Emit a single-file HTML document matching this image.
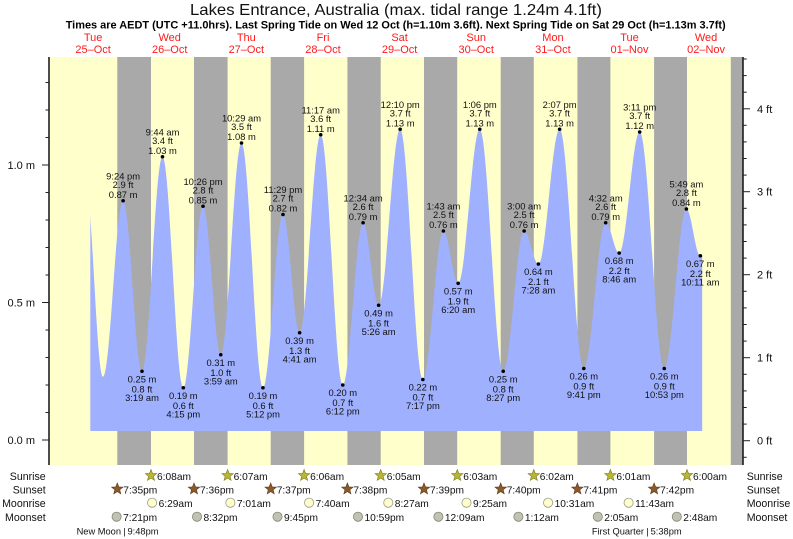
<!DOCTYPE html>
<html><head><meta charset="utf-8"><style>
html,body{margin:0;padding:0;background:#fff;}
svg{display:block;font-family:"Liberation Sans",Arial,sans-serif;}
.t{font-size:9.4px;fill:#111;text-anchor:middle;}
.d{font-size:11px;fill:#ff1a1a;text-anchor:middle;}
.ax{font-size:11px;fill:#111;}
.r{font-size:10.6px;fill:#111;}
.v{font-size:10.2px;fill:#111;}
</style></head><body>
<svg width="793" height="539" viewBox="0 0 793 539" xmlns="http://www.w3.org/2000/svg">
<defs>
<path id="star" d="M0,-6 L1.53,-2.1 L5.71,-1.85 L2.47,0.8 L3.53,4.85 L0,2.6 L-3.53,4.85 L-2.47,0.8 L-5.71,-1.85 L-1.53,-2.1 Z"/>
<clipPath id="cp"><rect x="90.3" y="0" width="612" height="431"/></clipPath>
</defs>
<rect width="793" height="539" fill="#fff"/>
<text x="190" y="15" font-size="16" fill="#111" textLength="412" lengthAdjust="spacingAndGlyphs">Lakes Entrance, Australia (max. tidal range 1.24m 4.1ft)</text>
<text x="65.7" y="28.5" font-size="11" font-weight="bold" fill="#000" textLength="660" lengthAdjust="spacingAndGlyphs">Times are AEDT (UTC +11.0hrs). Last Spring Tide on Wed 12 Oct (h=1.10m 3.6ft). Next Spring Tide on Sat 29 Oct (h=1.13m 3.7ft)</text>
<g class="d">
<text x="93.1" y="41">Tue</text><text x="93.1" y="53">25–Oct</text>
<text x="169.7" y="41">Wed</text><text x="169.7" y="53">26–Oct</text>
<text x="246.3" y="41">Thu</text><text x="246.3" y="53">27–Oct</text>
<text x="323" y="41">Fri</text><text x="323" y="53">28–Oct</text>
<text x="399.6" y="41">Sat</text><text x="399.6" y="53">29–Oct</text>
<text x="476.2" y="41">Sun</text><text x="476.2" y="53">30–Oct</text>
<text x="552.9" y="41">Mon</text><text x="552.9" y="53">31–Oct</text>
<text x="629.5" y="41">Tue</text><text x="629.5" y="53">01–Nov</text>
<text x="706.1" y="41">Wed</text><text x="706.1" y="53">02–Nov</text>
</g>
<rect x="49" y="57" width="694" height="408" fill="#ffffcc"/>
<g fill="#a9a9a9">
<rect x="117.3" y="57" width="33.7" height="408"/>
<rect x="194" y="57" width="33.6" height="408"/>
<rect x="270.7" y="57" width="33.4" height="408"/>
<rect x="347.4" y="57" width="33.3" height="408"/>
<rect x="424" y="57" width="33.2" height="408"/>
<rect x="500.7" y="57" width="33.1" height="408"/>
<rect x="577.4" y="57" width="33" height="408"/>
<rect x="654.1" y="57" width="32.9" height="408"/>
<rect x="730.8" y="57" width="12.2" height="408"/>
</g>
<path clip-path="url(#cp)" fill="#9fb0ff" d="M85.1,178.75 C91.6,178.75 96.5,376.75 103,376.75 C110.3,376.75 115.8,200.75 123.1,200.75 C129.96,200.75 135.13,371.25 141.99,371.25 C149.44,371.25 155.03,156.75 162.48,156.75 C170.04,156.75 175.73,387.75 183.29,387.75 C190.46,387.75 195.86,206.25 203.03,206.25 C209.47,206.25 214.31,354.75 220.75,354.75 C228.29,354.75 233.96,143 241.5,143 C249.29,143 255.16,387.75 262.95,387.75 C270.24,387.75 275.72,214.5 283.01,214.5 C289.05,214.5 293.58,332.75 299.62,332.75 C307.28,332.75 313.03,134.75 320.69,134.75 C328.72,134.75 334.75,385 342.78,385 C350.17,385 355.72,222.75 363.11,222.75 C368.75,222.75 373,305.25 378.64,305.25 C386.46,305.25 392.33,129.25 400.15,129.25 C408.41,129.25 414.61,379.5 422.87,379.5 C430.33,379.5 435.95,231 443.41,231 C448.77,231 452.79,283.25 458.15,283.25 C466,283.25 471.91,129.25 479.76,129.25 C488.29,129.25 494.69,371.25 503.22,371.25 C510.82,371.25 516.54,231 524.14,231 C529.32,231 533.22,264 538.4,264 C546.12,264 551.92,129.25 559.64,129.25 C568.42,129.25 575.02,368.5 583.8,368.5 C591.75,368.5 597.72,222.75 605.67,222.75 C610.58,222.75 614.28,253 619.19,253 C626.63,253 632.23,132 639.67,132 C648.61,132 655.32,368.5 664.26,368.5 C672.31,368.5 678.35,209 686.4,209 C691.47,209 695.27,255.75 700.34,255.75 L702.3,255.5 L702.3,431 L85,431 Z"/>
<!-- axes -->
<line x1="49" y1="57" x2="49" y2="465" stroke="#111" stroke-width="1.5"/>
<line x1="743" y1="57" x2="743" y2="465" stroke="#111" stroke-width="1.5"/>
<g stroke="#222" stroke-width="1">
<line x1="42" y1="440" x2="49" y2="440"/><line x1="42" y1="302.5" x2="49" y2="302.5"/><line x1="42" y1="165" x2="49" y2="165"/>
<line x1="45.5" y1="412.5" x2="49" y2="412.5"/><line x1="45.5" y1="385" x2="49" y2="385"/><line x1="45.5" y1="357.5" x2="49" y2="357.5"/><line x1="45.5" y1="330" x2="49" y2="330"/>
<line x1="45.5" y1="275" x2="49" y2="275"/><line x1="45.5" y1="247.5" x2="49" y2="247.5"/><line x1="45.5" y1="220" x2="49" y2="220"/><line x1="45.5" y1="192.5" x2="49" y2="192.5"/>
<line x1="45.5" y1="137.5" x2="49" y2="137.5"/><line x1="45.5" y1="110" x2="49" y2="110"/><line x1="45.5" y1="82.5" x2="49" y2="82.5"/>
<line x1="743" y1="440.7" x2="750" y2="440.7"/><line x1="743" y1="357.7" x2="750" y2="357.7"/><line x1="743" y1="274.7" x2="750" y2="274.7"/><line x1="743" y1="191.7" x2="750" y2="191.7"/><line x1="743" y1="108.8" x2="750" y2="108.8"/>
<line x1="743" y1="457.3" x2="746.7" y2="457.3"/>
<line x1="743" y1="424.1" x2="746.7" y2="424.1"/><line x1="743" y1="407.5" x2="746.7" y2="407.5"/><line x1="743" y1="390.9" x2="746.7" y2="390.9"/><line x1="743" y1="374.3" x2="746.7" y2="374.3"/>
<line x1="743" y1="341.1" x2="746.7" y2="341.1"/><line x1="743" y1="324.5" x2="746.7" y2="324.5"/><line x1="743" y1="307.9" x2="746.7" y2="307.9"/><line x1="743" y1="291.3" x2="746.7" y2="291.3"/>
<line x1="743" y1="258.1" x2="746.7" y2="258.1"/><line x1="743" y1="241.5" x2="746.7" y2="241.5"/><line x1="743" y1="224.9" x2="746.7" y2="224.9"/><line x1="743" y1="208.3" x2="746.7" y2="208.3"/>
<line x1="743" y1="175.1" x2="746.7" y2="175.1"/><line x1="743" y1="158.5" x2="746.7" y2="158.5"/><line x1="743" y1="141.9" x2="746.7" y2="141.9"/><line x1="743" y1="125.3" x2="746.7" y2="125.3"/>
<line x1="743" y1="92.2" x2="746.7" y2="92.2"/><line x1="743" y1="75.6" x2="746.7" y2="75.6"/><line x1="743" y1="59" x2="746.7" y2="59"/>
</g>
<g class="ax" text-anchor="end">
<text x="35" y="169">1.0 m</text><text x="35" y="306.5">0.5 m</text><text x="35" y="444">0.0 m</text>
</g>
<g class="ax">
<text x="757" y="112.8">4 ft</text><text x="757" y="195.7">3 ft</text><text x="757" y="278.7">2 ft</text><text x="757" y="361.7">1 ft</text><text x="757" y="444.7">0 ft</text>
</g>
<!-- tide dots -->
<g fill="#000">
<circle cx="123.1" cy="200.75" r="1.8"/><circle cx="141.99" cy="371.25" r="1.8"/><circle cx="162.48" cy="156.75" r="1.8"/><circle cx="183.29" cy="387.75" r="1.8"/><circle cx="203.03" cy="206.25" r="1.8"/><circle cx="220.75" cy="354.75" r="1.8"/><circle cx="241.5" cy="143" r="1.8"/><circle cx="262.95" cy="387.75" r="1.8"/><circle cx="283.01" cy="214.5" r="1.8"/><circle cx="299.62" cy="332.75" r="1.8"/><circle cx="320.69" cy="134.75" r="1.8"/><circle cx="342.78" cy="385" r="1.8"/><circle cx="363.11" cy="222.75" r="1.8"/><circle cx="378.64" cy="305.25" r="1.8"/><circle cx="400.15" cy="129.25" r="1.8"/><circle cx="422.87" cy="379.5" r="1.8"/><circle cx="443.41" cy="231" r="1.8"/><circle cx="458.15" cy="283.25" r="1.8"/><circle cx="479.76" cy="129.25" r="1.8"/><circle cx="503.22" cy="371.25" r="1.8"/><circle cx="524.14" cy="231" r="1.8"/><circle cx="538.4" cy="264" r="1.8"/><circle cx="559.64" cy="129.25" r="1.8"/><circle cx="583.8" cy="368.5" r="1.8"/><circle cx="605.67" cy="222.75" r="1.8"/><circle cx="619.19" cy="253" r="1.8"/><circle cx="639.67" cy="132" r="1.8"/><circle cx="664.26" cy="368.5" r="1.8"/><circle cx="686.4" cy="209" r="1.8"/><circle cx="700.34" cy="255.75" r="1.8"/>
</g>
<g class="t">
<!-- highs: time y-21.3, ft y-13, m y-3 ; lows: m y+11, ft y+21, time y+29.5 -->
<text x="123.1" y="179.5">9:24 pm</text><text x="123.1" y="187.8">2.9 ft</text><text x="123.1" y="197.8">0.87 m</text>
<text x="142" y="382.3">0.25 m</text><text x="142" y="392.3">0.8 ft</text><text x="142" y="400.8">3:19 am</text>
<text x="162.5" y="135.5">9:44 am</text><text x="162.5" y="143.8">3.4 ft</text><text x="162.5" y="153.8">1.03 m</text>
<text x="183.3" y="398.8">0.19 m</text><text x="183.3" y="408.8">0.6 ft</text><text x="183.3" y="417.3">4:15 pm</text>
<text x="203" y="185">10:26 pm</text><text x="203" y="193.3">2.8 ft</text><text x="203" y="203.3">0.85 m</text>
<text x="220.8" y="365.8">0.31 m</text><text x="220.8" y="375.8">1.0 ft</text><text x="220.8" y="384.3">3:59 am</text>
<text x="241.5" y="121.7">10:29 am</text><text x="241.5" y="130">3.5 ft</text><text x="241.5" y="140">1.08 m</text>
<text x="263" y="398.8">0.19 m</text><text x="263" y="408.8">0.6 ft</text><text x="263" y="417.3">5:12 pm</text>
<text x="283" y="193.2">11:29 pm</text><text x="283" y="201.5">2.7 ft</text><text x="283" y="211.5">0.82 m</text>
<text x="299.6" y="343.8">0.39 m</text><text x="299.6" y="353.8">1.3 ft</text><text x="299.6" y="362.3">4:41 am</text>
<text x="320.7" y="113.5">11:17 am</text><text x="320.7" y="121.8">3.6 ft</text><text x="320.7" y="131.8">1.11 m</text>
<text x="342.8" y="396">0.20 m</text><text x="342.8" y="406">0.7 ft</text><text x="342.8" y="414.5">6:12 pm</text>
<text x="363.1" y="201.5">12:34 am</text><text x="363.1" y="209.8">2.6 ft</text><text x="363.1" y="219.8">0.79 m</text>
<text x="378.6" y="316.3">0.49 m</text><text x="378.6" y="326.3">1.6 ft</text><text x="378.6" y="334.8">5:26 am</text>
<text x="400.2" y="108">12:10 pm</text><text x="400.2" y="116.3">3.7 ft</text><text x="400.2" y="126.3">1.13 m</text>
<text x="422.9" y="390.5">0.22 m</text><text x="422.9" y="400.5">0.7 ft</text><text x="422.9" y="409">7:17 pm</text>
<text x="443.4" y="209.7">1:43 am</text><text x="443.4" y="218">2.5 ft</text><text x="443.4" y="228">0.76 m</text>
<text x="458.2" y="294.3">0.57 m</text><text x="458.2" y="304.3">1.9 ft</text><text x="458.2" y="312.8">6:20 am</text>
<text x="479.8" y="108">1:06 pm</text><text x="479.8" y="116.3">3.7 ft</text><text x="479.8" y="126.3">1.13 m</text>
<text x="503.2" y="382.3">0.25 m</text><text x="503.2" y="392.3">0.8 ft</text><text x="503.2" y="400.8">8:27 pm</text>
<text x="524.1" y="209.7">3:00 am</text><text x="524.1" y="218">2.5 ft</text><text x="524.1" y="228">0.76 m</text>
<text x="538.4" y="275">0.64 m</text><text x="538.4" y="285">2.1 ft</text><text x="538.4" y="293.5">7:28 am</text>
<text x="559.6" y="108">2:07 pm</text><text x="559.6" y="116.3">3.7 ft</text><text x="559.6" y="126.3">1.13 m</text>
<text x="583.8" y="379.5">0.26 m</text><text x="583.8" y="389.5">0.9 ft</text><text x="583.8" y="398">9:41 pm</text>
<text x="605.7" y="201.5">4:32 am</text><text x="605.7" y="209.8">2.6 ft</text><text x="605.7" y="219.8">0.79 m</text>
<text x="619.2" y="264">0.68 m</text><text x="619.2" y="274">2.2 ft</text><text x="619.2" y="282.5">8:46 am</text>
<text x="639.7" y="110.7">3:11 pm</text><text x="639.7" y="119">3.7 ft</text><text x="639.7" y="129">1.12 m</text>
<text x="664.3" y="379.5">0.26 m</text><text x="664.3" y="389.5">0.9 ft</text><text x="664.3" y="398">10:53 pm</text>
<text x="686.4" y="187.7">5:49 am</text><text x="686.4" y="196">2.8 ft</text><text x="686.4" y="206">0.84 m</text>
<text x="700.3" y="266.8">0.67 m</text><text x="700.3" y="276.8">2.2 ft</text><text x="700.3" y="285.3">10:11 am</text>
</g>
<!-- bottom rows -->
<g class="r" text-anchor="end">
<text x="45.7" y="480">Sunrise</text><text x="45.7" y="493.5">Sunset</text><text x="45.7" y="507">Moonrise</text><text x="45.7" y="521">Moonset</text>
</g>
<g class="r">
<text x="746.7" y="480">Sunrise</text><text x="746.7" y="493.5">Sunset</text><text x="746.7" y="507">Moonrise</text><text x="746.7" y="521">Moonset</text>
</g>
<g fill="#b8b634" stroke="#7d7b20" stroke-width="0.6">
<use href="#star" x="151" y="475.5"/><use href="#star" x="227.6" y="475.5"/><use href="#star" x="304.1" y="475.5"/><use href="#star" x="380.7" y="475.5"/><use href="#star" x="457.3" y="475.5"/><use href="#star" x="533.8" y="475.5"/><use href="#star" x="610.4" y="475.5"/><use href="#star" x="687" y="475.5"/>
</g>
<g fill="#8b5a2b" stroke="#5e3a18" stroke-width="0.6">
<use href="#star" x="117.3" y="489"/><use href="#star" x="194" y="489"/><use href="#star" x="270.7" y="489"/><use href="#star" x="347.4" y="489"/><use href="#star" x="424" y="489"/><use href="#star" x="500.7" y="489"/><use href="#star" x="577.4" y="489"/><use href="#star" x="654.1" y="489"/>
</g>
<g fill="#ffffcc" stroke="#9a9a8a" stroke-width="0.8">
<circle cx="152.1" cy="502.7" r="4.6"/><circle cx="230.4" cy="502.7" r="4.6"/><circle cx="309.1" cy="502.7" r="4.6"/><circle cx="388.3" cy="502.7" r="4.6"/><circle cx="466.5" cy="502.7" r="4.6"/><circle cx="548.1" cy="502.7" r="4.6"/><circle cx="628.6" cy="502.7" r="4.6"/>
</g>
<g fill="#c2c2b2" stroke="#85857a" stroke-width="0.8">
<circle cx="116.6" cy="516.7" r="4.6"/><circle cx="197" cy="516.7" r="4.6"/><circle cx="277.5" cy="516.7" r="4.6"/><circle cx="358" cy="516.7" r="4.6"/><circle cx="438.4" cy="516.7" r="4.6"/><circle cx="518.4" cy="516.7" r="4.6"/><circle cx="597.8" cy="516.7" r="4.6"/><circle cx="676.8" cy="516.7" r="4.6"/>
</g>
<g class="v">
<text x="157" y="479.8">6:08am</text><text x="233.6" y="479.8">6:07am</text><text x="310.1" y="479.8">6:06am</text><text x="386.7" y="479.8">6:05am</text><text x="463.3" y="479.8">6:03am</text><text x="539.8" y="479.8">6:02am</text><text x="616.4" y="479.8">6:01am</text><text x="693" y="479.8">6:00am</text>
<text x="123.3" y="493.3">7:35pm</text><text x="200" y="493.3">7:36pm</text><text x="276.7" y="493.3">7:37pm</text><text x="353.4" y="493.3">7:38pm</text><text x="430" y="493.3">7:39pm</text><text x="506.7" y="493.3">7:40pm</text><text x="583.4" y="493.3">7:41pm</text><text x="660.1" y="493.3">7:42pm</text>
<text x="158.6" y="506.8">6:29am</text><text x="236.9" y="506.8">7:01am</text><text x="315.6" y="506.8">7:40am</text><text x="394.8" y="506.8">8:27am</text><text x="473" y="506.8">9:25am</text><text x="554.6" y="506.8">10:31am</text><text x="635.1" y="506.8">11:43am</text>
<text x="123.1" y="520.8">7:21pm</text><text x="203.5" y="520.8">8:32pm</text><text x="284" y="520.8">9:45pm</text><text x="364.5" y="520.8">10:59pm</text><text x="444.9" y="520.8">12:09am</text><text x="524.9" y="520.8">1:12am</text><text x="604.3" y="520.8">2:05am</text><text x="683.3" y="520.8">2:48am</text>
</g>
<g font-size="9.3" fill="#111">
<text x="121" y="534.5" text-anchor="end">New Moon</text><text x="124.4" y="534.5" text-anchor="middle">|</text><text x="127.5" y="534.5">9:48pm</text>
<text x="644" y="534.5" text-anchor="end">First Quarter</text><text x="647.5" y="534.5" text-anchor="middle">|</text><text x="650.6" y="534.5">5:38pm</text>
</g>
</svg>
</body></html>
